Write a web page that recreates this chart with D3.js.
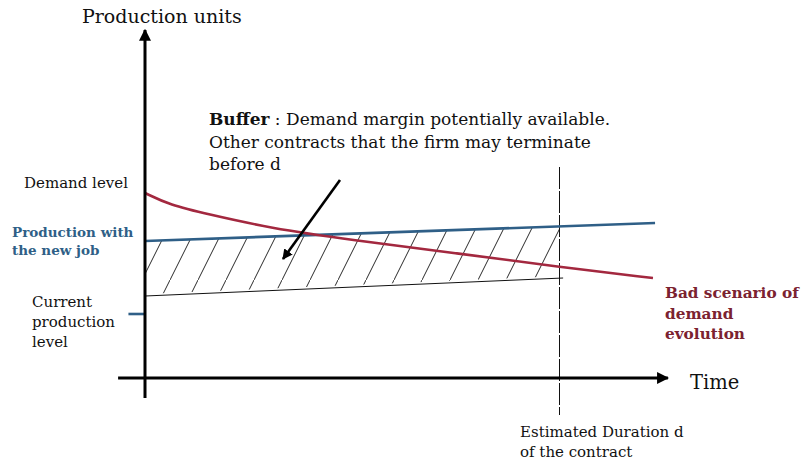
<!DOCTYPE html>
<html>
<head>
<meta charset="utf-8">
<script src="https://cdn.jsdelivr.net/npm/d3@7"></script>
<style>
  body { margin: 0; background: #fff; }
  svg { display: block; font-family: "DejaVu Serif", Georgia, serif; }
</style>
</head>
<body>
<div id="chart"></div>
<script>
// time is in % of the estimated contract duration d, levels in production units
const demandTime  = [0, 6, 15, 30, 50, 75, 100, 122.7];
const demandLevel = [185, 173, 164, 150, 138, 125, 111, 100];

const newJobTime  = [0, 123.2];
const newJobLevel = [137, 155];

const bufferLowTime  = [0, 101];
const bufferLowLevel = [82, 100];

const currentLevel = 64;
const durationD = 100;

const width = 801, height = 463;

const svg = d3.select("#chart")
  .append("svg")
    .attr("width", width)
    .attr("height", height);

const x = d3.scaleLinear().domain([0, 100]).range([145, 559]);
const y = d3.scaleLinear().domain([0, 350]).range([378, 28]);

const blue = "#2f5f87", red = "#a3283f";

const defs = svg.append("defs");
defs.append("marker")
    .attr("id", "head")
    .attr("viewBox", "0 0 10 10")
    .attr("refX", 9).attr("refY", 5)
    .attr("markerWidth", 4).attr("markerHeight", 4)
    .attr("markerUnits", "strokeWidth")
    .attr("orient", "auto")
  .append("path")
    .attr("d", "M0,0 L10,5 L0,10 Z")
    .attr("fill", "#000");

// hatch pattern, lines going up to the right
defs.append("pattern")
    .attr("id", "hatch")
    .attr("patternUnits", "userSpaceOnUse")
    .attr("x", 2).attr("y", 0)
    .attr("width", 28).attr("height", 56)
  .append("line")
    .attr("x1", 0).attr("y1", 56)
    .attr("x2", 28).attr("y2", 0)
    .attr("stroke", "#111")
    .attr("stroke-width", 0.9);

// buffer zone : between current production trend and production with the new job, up to d
const topAt = t => d3.scaleLinear().domain(newJobTime).range(newJobLevel)(t);
const lowAt = t => d3.scaleLinear().domain(bufferLowTime).range(bufferLowLevel)(t);
const zone = [0, durationD].map(t => ({t, lo: lowAt(t), hi: topAt(t)}));
svg.append("path")
    .datum(zone)
    .attr("d", d3.area().x(d => x(d.t)).y0(d => y(d.lo) - 2).y1(d => y(d.hi)))
    .attr("fill", "url(#hatch)");

// lower edge of the buffer
svg.append("path")
    .datum(bufferLowTime.map((t, i) => [t, bufferLowLevel[i]]))
    .attr("d", d3.line().x(d => x(d[0])).y(d => y(d[1])))
    .attr("stroke", "#111").attr("stroke-width", 1).attr("fill", "none");

// contract duration marker
svg.append("line")
    .attr("x1", x(durationD) + 0.5).attr("x2", x(durationD) + 0.5)
    .attr("y1", y(211)).attr("y2", y(-37))
    .attr("stroke", "#111").attr("stroke-width", 1)
    .attr("stroke-dasharray", "22,2");

// production with the new job
svg.append("path")
    .datum(newJobTime.map((t, i) => [t, newJobLevel[i]]))
    .attr("d", d3.line().x(d => x(d[0])).y(d => y(d[1])))
    .attr("stroke", blue).attr("stroke-width", 2.6).attr("fill", "none");

// demand, bad scenario
svg.append("path")
    .datum(demandTime.map((t, i) => [t, demandLevel[i]]))
    .attr("d", d3.line().x(d => x(d[0])).y(d => y(d[1])).curve(d3.curveBasis))
    .attr("stroke", red).attr("stroke-width", 2.6).attr("fill", "none");

// current production level tick
svg.append("line")
    .attr("x1", x(-4)).attr("x2", x(0))
    .attr("y1", y(currentLevel)).attr("y2", y(currentLevel))
    .attr("stroke", blue).attr("stroke-width", 2.6);

// axes
svg.append("line")
    .attr("x1", x(0)).attr("x2", x(0))
    .attr("y1", y(-20)).attr("y2", y(348))
    .attr("stroke", "#000").attr("stroke-width", 3)
    .attr("marker-end", "url(#head)");
svg.append("line")
    .attr("x1", x(-6.5)).attr("x2", x(126.3))
    .attr("y1", y(0)).attr("y2", y(0))
    .attr("stroke", "#000").attr("stroke-width", 3)
    .attr("marker-end", "url(#head)");

// buffer arrow
svg.append("line")
    .attr("x1", 340).attr("y1", 180)
    .attr("x2", 283).attr("y2", 259)
    .attr("stroke", "#000").attr("stroke-width", 2.6)
    .attr("marker-end", "url(#head)");

// texts
function lines(xp, yp, rows, size, opts) {
  const t = svg.append("text")
      .attr("x", xp).attr("y", yp)
      .style("font-size", size + "px")
      .attr("fill", opts && opts.color || "#111")
      .style("font-weight", opts && opts.bold ? "bold" : "normal");
  rows.forEach((r, i) => t.append("tspan").attr("x", xp).attr("dy", i ? (opts && opts.lh || size * 1.25) : 0).text(r));
  return t;
}

lines(82, 23, ["Production units"], 19);
lines(690, 389, ["Time"], 19.5);
lines(24, 188, ["Demand level"], 15);
lines(12, 237, ["Production with", "the new job"], 13.5, {bold: true, color: blue, lh: 18});
lines(32, 307, ["Current", "production", "level"], 15, {lh: 20});
lines(665, 298, ["Bad scenario of", "demand", "evolution"], 15.3, {bold: true, color: "#7b2230", lh: 20.5});
lines(520, 437, ["Estimated Duration d", "of the contract"], 15, {lh: 20});

const buf = svg.append("text").attr("x", 209).attr("y", 125).style("font-size", "17px").attr("fill", "#111");
buf.append("tspan").style("font-weight", "bold").text("Buffer");
buf.append("tspan").text(" : Demand margin potentially available.");
lines(209, 148, ["Other contracts that the firm may terminate", "before d"], 17, {lh: 22});
</script>
</body>
</html>
